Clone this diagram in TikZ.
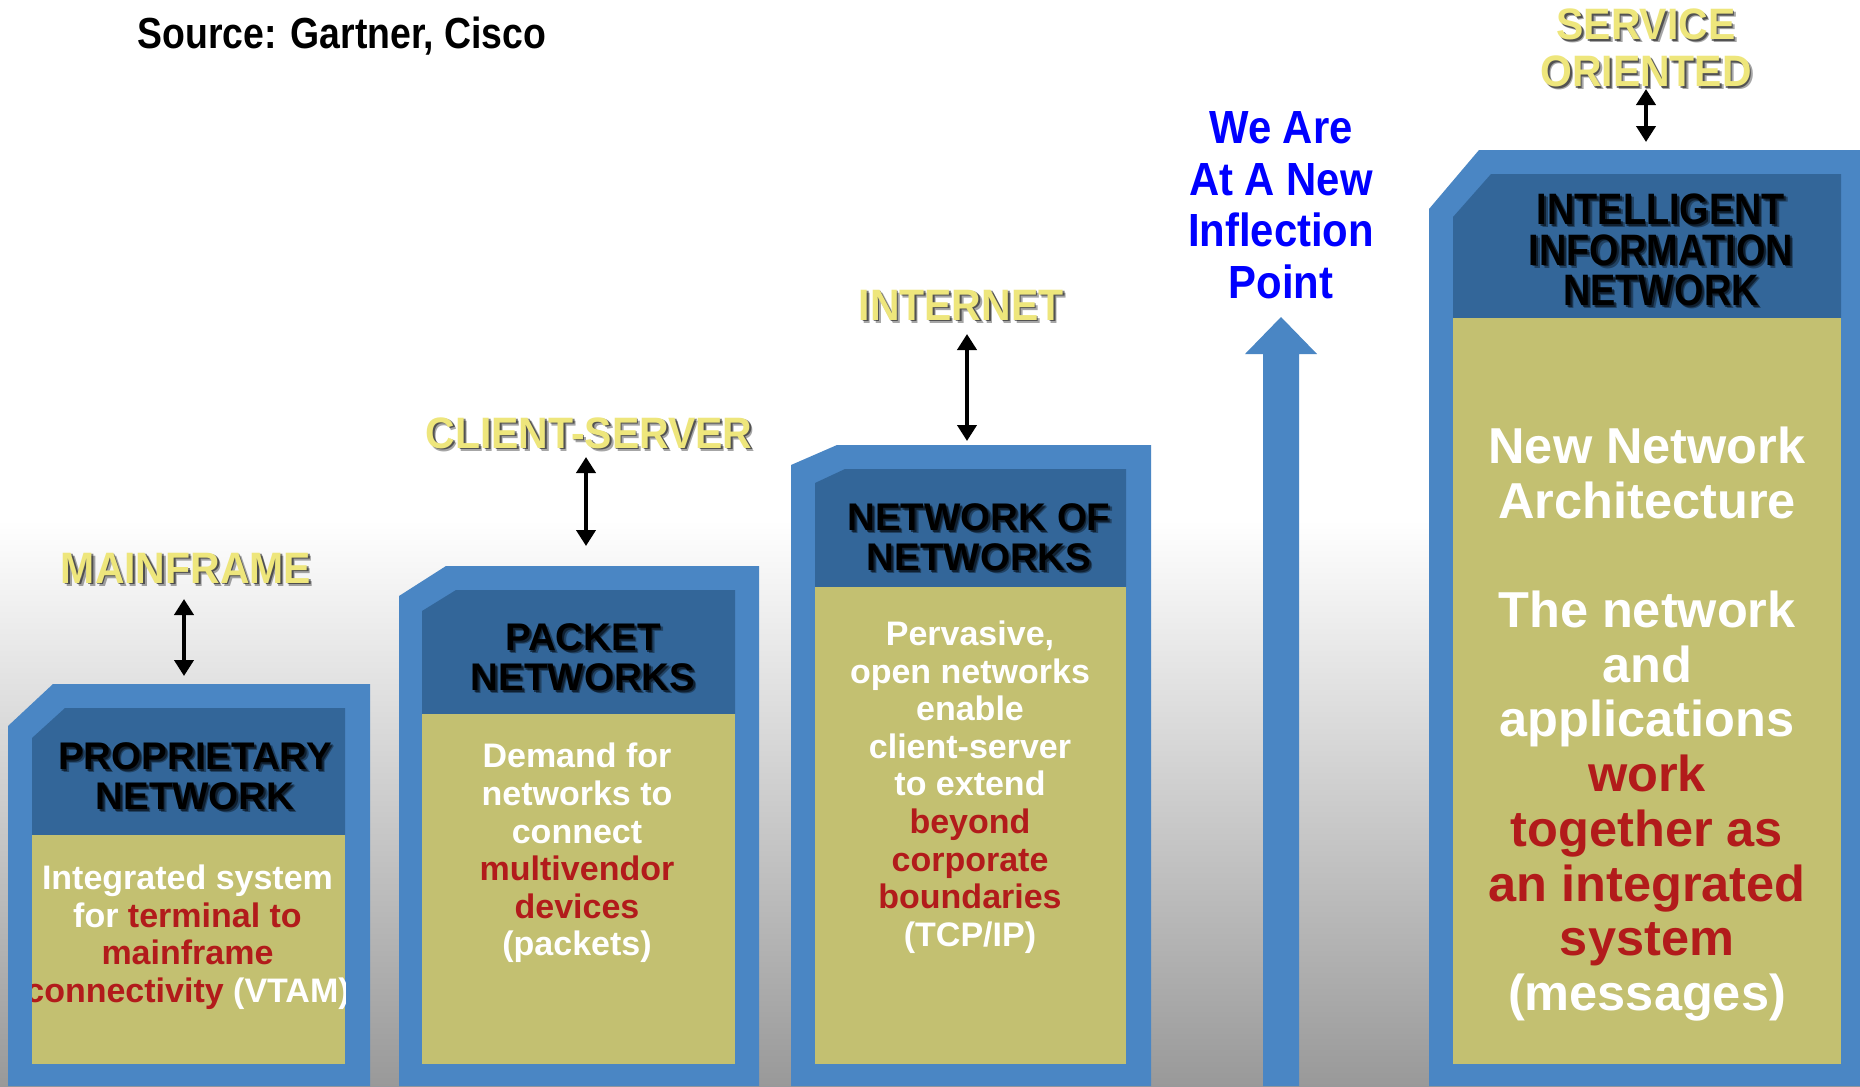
\documentclass[tikz,border=0pt]{standalone}
\usepackage{fontspec}
\setmainfont{Liberation Sans}
\newfontfamily\narrowfont[FakeStretch=0.86]{Liberation Sans}
\newfontfamily\notefont[FakeStretch=0.9]{Liberation Sans}
\newfontfamily\erafont[FakeStretch=0.93]{Liberation Sans}
\usetikzlibrary{arrows.meta}

\definecolor{frameblue}{HTML}{4A86C4}
\definecolor{bandblue}{HTML}{336699}
\definecolor{khaki}{HTML}{C3C071}
\definecolor{hilite}{HTML}{B21B1B}
\definecolor{erayellow}{HTML}{EEE67C}
\definecolor{pointblue}{HTML}{0000FF}
\definecolor{floorgray}{HTML}{999999}

\newcommand{\hl}[1]{\textcolor{hilite}{#1}}
% text with a soft drop shadow: name, style, position, text
\newcommand{\shadownode}[4]{%
  \node[#2, text=black, opacity=.35] at ([xshift=3.2bp,yshift=-3.2bp]#3) {#4};
  \node[#2, text=black, opacity=.5] at ([xshift=1.8bp,yshift=-1.8bp]#3) {#4};
  \node[#2] (#1) at (#3) {#4};}

\begin{document}
\begin{tikzpicture}[x=1bp,y=-1bp,
  body/.style={align=center, text=white, inner sep=0pt,
    font=\bfseries\fontsize{34bp}{37.6bp}\selectfont},
  bigbody/.style={align=center, text=white, inner sep=0pt,
    font=\bfseries\fontsize{50.5bp}{54.7bp}\selectfont},
  head/.style={align=center, text=black, inner sep=0pt,
    font=\bfseries\fontsize{38.5bp}{40bp}\selectfont},
  narrowhead/.style={align=center, text=black, inner sep=0pt,
    font=\narrowfont\bfseries\fontsize{44bp}{40.5bp}\selectfont},
  era/.style={align=center, text=erayellow, inner sep=0pt,
    font=\erafont\bfseries\fontsize{44bp}{47bp}\selectfont},
  link/.style={line width=4bp,
    {Triangle[width=19bp,length=16bp]}-{Triangle[width=19bp,length=16bp]}}]

\useasboundingbox (0,0) rectangle (1860,1086);

% backdrop: white fading to grey towards the floor
\fill[white] (0,0) rectangle (1860,1086);
\shade[top color=white, bottom color=floorgray] (0,520) rectangle (1860,1086);

% tier 1
\fill[frameblue] (8,726) -- (53,684) -- (370,684) -- (370,1086) -- (8,1086) -- cycle;
\fill[bandblue] (32,738) -- (65,708) -- (345,708) -- (345,835) -- (32,835) -- cycle;
\fill[khaki] (32,835) rectangle (345,1064);

% tier 2
\fill[frameblue] (399,596) -- (446,566) -- (759,566) -- (759,1086) -- (399,1086) -- cycle;
\fill[bandblue] (422,611) -- (456,590) -- (735,590) -- (735,714) -- (422,714) -- cycle;
\fill[khaki] (422,714) rectangle (735,1064);

% tier 3
\fill[frameblue] (791,465) -- (837,445) -- (1151,445) -- (1151,1086) -- (791,1086) -- cycle;
\fill[bandblue] (815,483) -- (845,469) -- (1126,469) -- (1126,587) -- (815,587) -- cycle;
\fill[khaki] (815,587) rectangle (1126,1064);

% tier 4
\fill[frameblue] (1429,209) -- (1479,150) -- (1860,150) -- (1860,1086) -- (1429,1086) -- cycle;
\fill[bandblue] (1453,217) -- (1491,174) -- (1841,174) -- (1841,318) -- (1453,318) -- cycle;
\fill[khaki] (1453,318) rectangle (1841,1064);

% rising arrow
\fill[frameblue] (1263,1086) -- (1263,354) -- (1245,354) -- (1281,317)
  -- (1317,354) -- (1299,354) -- (1299,1086) -- cycle;

% source line
\node[inner sep=0pt, font=\narrowfont\bfseries\fontsize{43.5bp}{46bp}\selectfont]
  (source) at (342,36) {Source: Gartner, Cisco};

% era labels
\shadownode{eraA}{era}{186,568}{MAINFRAME}
\shadownode{eraB}{era}{589,433}{CLIENT-SERVER}
\shadownode{eraC}{era}{961,305}{INTERNET}
\shadownode{eraD}{era}{1646,48}{SERVICE\\ORIENTED}

% links between labels and tiers
\coordinate (linkA1) at (184,599);  \coordinate (linkA2) at (184,676);
\coordinate (linkB1) at (586,457);  \coordinate (linkB2) at (586,546);
\coordinate (linkC1) at (967,334);  \coordinate (linkC2) at (967,441);
\coordinate (linkD1) at (1646,89);  \coordinate (linkD2) at (1646,142);
\draw[link] (linkA1) -- (linkA2);
\draw[link] (linkB1) -- (linkB2);
\draw[link] (linkC1) -- (linkC2);
\draw[link] (linkD1) -- (linkD2);

% tier headings
\shadownode{headA}{head}{195,776}{PROPRIETARY\\NETWORK}
\shadownode{headB}{head}{583,657}{PACKET\\NETWORKS}
\shadownode{headC}{head}{979,537}{NETWORK OF\\NETWORKS}
\shadownode{headD}{narrowhead}{1661,250}{INTELLIGENT\\INFORMATION\\NETWORK}

% tier descriptions
\begin{scope}
  \clip (32,835) rectangle (345,1064);
  \node[body] (bodyA) at (187.5,937)
    {Integrated system\\for \hl{terminal to}\\\hl{mainframe}\\\hl{connectivity} (VTAM)};
\end{scope}
\node[body] (bodyB) at (577,853)
  {Demand for\\networks to\\connect\\\hl{multivendor}\\\hl{devices}\\(packets)};
\node[body] (bodyC) at (970,787)
  {Pervasive,\\open networks\\enable\\client-server\\to extend\\\hl{beyond}\\\hl{corporate}\\\hl{boundaries}\\(TCP/IP)};
\node[bigbody] (bodyD) at (1647,724)
  {New Network\\Architecture\\[54.7bp]The network\\and\\applications\\\hl{work}\\\hl{together as}\\\hl{an integrated}\\\hl{system}\\(messages)};

% inflection point note
\node[align=center, text=pointblue, inner sep=0pt,
  font=\notefont\bfseries\fontsize{46.5bp}{51.5bp}\selectfont]
  (note) at (1281,205) {We Are\\At A New\\Inflection\\Point};

\end{tikzpicture}
\end{document}
